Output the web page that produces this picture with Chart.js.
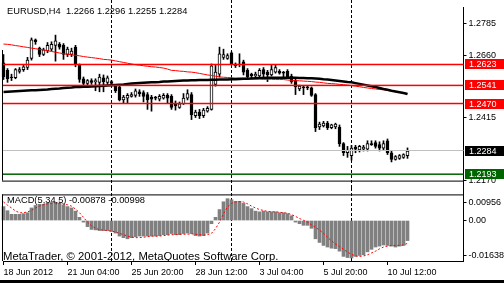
<!DOCTYPE html>
<html>
<head>
<meta charset="utf-8">
<script src="https://cdn.jsdelivr.net/npm/chart.js@4"></script>
<style>
  html, body { margin:0; padding:0; background:#fff; }
  #wrap { position:relative; width:504px; height:283px; overflow:hidden; background:#fff; }
  #priceChart { position:absolute; left:0; top:0; }
  #macdChart { position:absolute; left:0; top:188px; }
  #foot { position:absolute; left:0; top:280px; width:504px; height:3px; background:#000; }
</style>
</head>
<body>
<div id="wrap">
  <canvas id="priceChart" width="504" height="188"></canvas>
  <canvas id="macdChart" width="504" height="95"></canvas>
  <div id="foot"></div>
</div>
<script>
// EURUSD H4, one entry per bar (bar 0 = 18 Jun 2012 12:00)
const opens = [
  1.2629,1.2600,1.2574,1.2571,1.2596,1.2603,1.2611,1.2647,1.2720,1.2687,
  1.2662,1.2676,1.2683,1.2698,1.2702,1.2698,1.2662,1.2662,1.2691,1.2622,
  1.2567,1.2549,1.2560,1.2556,1.2553,1.2571,1.2553,1.2556,1.2538,1.2535,
  1.2484,1.2491,1.2498,1.2502,1.2516,1.2513,1.2505,1.2495,1.2495,1.2487,
  1.2491,1.2502,1.2498,1.2469,1.2455,1.2469,1.2491,1.2505,1.2422,1.2436,
  1.2422,1.2440,1.2447,1.2545,1.2585,1.2651,1.2647,1.2669,1.2625,1.2622,
  1.2633,1.2600,1.2585,1.2578,1.2578,1.2603,1.2593,1.2582,1.2593,1.2596,
  1.2593,1.2596,1.2578,1.2560,1.2527,1.2535,1.2535,1.2531,1.2505,1.2378,
  1.2382,1.2393,1.2375,1.2378,1.2378,1.2313,1.2277,1.2266,1.2299,1.2288,
  1.2291,1.2291,1.2313,1.2317,1.2309,1.2295,1.2324,1.2277,1.2251,1.2255,
  1.2259,1.2266
];
const highs = [
  1.2662,1.2607,1.2585,1.2607,1.2611,1.2622,1.2651,1.2727,1.2723,1.2691,
  1.2687,1.2709,1.2712,1.2738,1.2709,1.2705,1.2691,1.2687,1.2698,1.2625,
  1.2574,1.2564,1.2567,1.2567,1.2585,1.2582,1.2578,1.2560,1.2545,1.2542,
  1.2502,1.2509,1.2513,1.2527,1.2524,1.2520,1.2513,1.2502,1.2498,1.2505,
  1.2509,1.2509,1.2505,1.2480,1.2476,1.2509,1.2524,1.2513,1.2444,1.2447,
  1.2451,1.2458,1.2625,1.2622,1.2691,1.2683,1.2665,1.2672,1.2629,1.2665,
  1.2640,1.2607,1.2589,1.2593,1.2607,1.2611,1.2600,1.2622,1.2622,1.2603,
  1.2596,1.2603,1.2585,1.2567,1.2542,1.2538,1.2538,1.2535,1.2509,1.2397,
  1.2400,1.2400,1.2389,1.2393,1.2386,1.2317,1.2302,1.2306,1.2306,1.2306,
  1.2306,1.2324,1.2324,1.2324,1.2320,1.2324,1.2331,1.2284,1.2266,1.2270,
  1.2273,1.2296
];
const lows = [
  1.2564,1.2553,1.2560,1.2567,1.2589,1.2596,1.2603,1.2640,1.2702,1.2654,
  1.2658,1.2669,1.2676,1.2636,1.2683,1.2643,1.2654,1.2654,1.2614,1.2553,
  1.2542,1.2542,1.2545,1.2520,1.2516,1.2516,1.2545,1.2542,1.2513,1.2480,
  1.2473,1.2473,1.2495,1.2495,1.2498,1.2476,1.2447,1.2440,1.2484,1.2480,
  1.2487,1.2473,1.2447,1.2444,1.2451,1.2466,1.2484,1.2407,1.2415,1.2411,
  1.2415,1.2436,1.2444,1.2538,1.2574,1.2643,1.2643,1.2622,1.2611,1.2614,
  1.2582,1.2567,1.2571,1.2574,1.2574,1.2574,1.2556,1.2578,1.2589,1.2585,
  1.2574,1.2567,1.2549,1.2505,1.2520,1.2505,1.2524,1.2498,1.2360,1.2368,
  1.2378,1.2368,1.2371,1.2371,1.2302,1.2266,1.2259,1.2248,1.2277,1.2280,
  1.2284,1.2284,1.2306,1.2295,1.2284,1.2288,1.2270,1.2241,1.2248,1.2251,
  1.2255,1.2255
];
const closes = [
  1.2574,1.2567,1.2571,1.2603,1.2603,1.2614,1.2640,1.2720,1.2712,1.2662,
  1.2680,1.2698,1.2702,1.2716,1.2691,1.2662,1.2683,1.2676,1.2622,1.2564,
  1.2549,1.2560,1.2553,1.2560,1.2574,1.2556,1.2571,1.2549,1.2520,1.2484,
  1.2495,1.2502,1.2505,1.2520,1.2509,1.2498,1.2484,1.2487,1.2491,1.2498,
  1.2502,1.2491,1.2455,1.2462,1.2469,1.2491,1.2509,1.2426,1.2436,1.2422,
  1.2444,1.2451,1.2618,1.2593,1.2665,1.2662,1.2658,1.2625,1.2618,1.2625,
  1.2593,1.2574,1.2578,1.2585,1.2600,1.2585,1.2582,1.2603,1.2611,1.2589,
  1.2589,1.2574,1.2556,1.2535,1.2538,1.2531,1.2531,1.2502,1.2375,1.2389,
  1.2393,1.2375,1.2386,1.2389,1.2313,1.2277,1.2288,1.2295,1.2291,1.2302,
  1.2299,1.2313,1.2309,1.2302,1.2295,1.2313,1.2277,1.2251,1.2262,1.2266,
  1.2270,1.2284
];
// moving averages on the price window
const maRed = [
  1.2703,1.2702,1.2700,1.2697,1.2695,1.2692,1.2690,1.2687,1.2685,1.2682,
  1.2680,1.2677,1.2674,1.2671,1.2668,1.2665,1.2663,1.2661,1.2659,1.2657,
  1.2654,1.2652,1.2650,1.2648,1.2646,1.2643,1.2642,1.2640,1.2637,1.2634,
  1.2631,1.2628,1.2625,1.2622,1.2620,1.2618,1.2616,1.2614,1.2613,1.2611,
  1.2609,1.2605,1.2600,1.2599,1.2597,1.2596,1.2594,1.2593,1.2591,1.2588,
  1.2585,1.2582,1.2580,1.2577,1.2574,1.2573,1.2572,1.2571,1.2570,1.2570,
  1.2569,1.2568,1.2567,1.2566,1.2566,1.2565,1.2565,1.2565,1.2564,1.2564,
  1.2564,1.2562,1.2561,1.2560,1.2559,1.2558,1.2557,1.2556,1.2554,1.2553,
  1.2551,1.2549,1.2548,1.2547,1.2545,1.2544,1.2542,1.2540,1.2538,1.2536,
  1.2533,1.2531,1.2529,1.2527,1.2525,1.2524,1.2521,1.2519,1.2516,1.2514,
  1.2512,1.2509
];
const maBlack = [
  1.2515,1.2516,1.2517,1.2518,1.2519,1.2520,1.2521,1.2522,1.2522,1.2523,
  1.2524,1.2525,1.2527,1.2528,1.2529,1.2531,1.2532,1.2533,1.2535,1.2535,
  1.2536,1.2536,1.2537,1.2538,1.2539,1.2540,1.2541,1.2542,1.2543,1.2544,
  1.2545,1.2547,1.2548,1.2549,1.2550,1.2551,1.2552,1.2553,1.2553,1.2554,
  1.2556,1.2556,1.2557,1.2558,1.2559,1.2560,1.2560,1.2561,1.2561,1.2562,
  1.2562,1.2562,1.2563,1.2563,1.2564,1.2564,1.2564,1.2565,1.2565,1.2566,
  1.2567,1.2567,1.2568,1.2569,1.2570,1.2570,1.2571,1.2571,1.2571,1.2571,
  1.2571,1.2571,1.2571,1.2571,1.2570,1.2570,1.2569,1.2569,1.2568,1.2567,
  1.2565,1.2564,1.2562,1.2560,1.2558,1.2556,1.2554,1.2553,1.2550,1.2547,
  1.2544,1.2541,1.2538,1.2535,1.2531,1.2527,1.2524,1.2520,1.2517,1.2514,
  1.2511,1.2507
];
// MACD(5,34,5) window
const macdMain = [
  0.0061,0.0043,0.0027,0.0027,0.0027,0.0030,0.0034,0.0055,0.0066,0.0071,
  0.0071,0.0075,0.0079,0.0079,0.0075,0.0068,0.0061,0.0055,0.0041,0.0014,
  -0.0007,-0.0027,-0.0039,-0.0041,-0.0044,-0.0044,-0.0044,-0.0048,-0.0055,-0.0068,
  -0.0075,-0.0080,-0.0075,-0.0071,-0.0068,-0.0068,-0.0068,-0.0068,-0.0068,-0.0066,
  -0.0062,-0.0062,-0.0057,-0.0062,-0.0062,-0.0057,-0.0055,-0.0057,-0.0066,-0.0068,
  -0.0066,-0.0055,-0.0014,0.0014,0.0048,0.0082,0.00956,0.0091,0.0084,0.0084,
  0.0075,0.0061,0.0052,0.0041,0.0038,0.0041,0.0038,0.0038,0.0038,0.0034,
  0.0034,0.0030,0.0021,-0.0007,-0.0014,-0.0021,-0.0021,-0.0034,-0.0080,-0.0096,
  -0.0109,-0.0116,-0.0121,-0.0123,-0.0134,-0.0157,-0.0162,-0.01638,-0.0157,-0.0153,
  -0.0150,-0.0137,-0.0126,-0.0116,-0.0112,-0.0107,-0.0109,-0.0112,-0.0116,-0.0112,
  -0.0109,-0.00878
];
const macdSignal = [
  0.0081,0.0067,0.0055,0.0042,0.0034,0.0034,0.0038,0.0044,0.0055,0.0063,
  0.0069,0.0073,0.0075,0.0077,0.0075,0.0073,0.0069,0.0063,0.0050,0.0034,
  0.0014,-0.0007,-0.0023,-0.0034,-0.0040,-0.0042,-0.0044,-0.0046,-0.0050,-0.0056,
  -0.0062,-0.0068,-0.0073,-0.0075,-0.0075,-0.0073,-0.0071,-0.0068,-0.0068,-0.0068,
  -0.0066,-0.0064,-0.0062,-0.0062,-0.0060,-0.0060,-0.0060,-0.0058,-0.0060,-0.0062,
  -0.0064,-0.0062,-0.0056,-0.0036,-0.0007,0.0030,0.0059,0.0075,0.0081,0.0083,
  0.0081,0.0073,0.0063,0.0055,0.0048,0.0044,0.0040,0.0038,0.0038,0.0036,
  0.0034,0.0032,0.0026,0.0018,0.0009,0.0001,-0.0007,-0.0019,-0.0030,-0.0042,
  -0.0056,-0.0073,-0.0089,-0.0103,-0.0114,-0.0126,-0.0138,-0.0148,-0.0155,-0.0157,
  -0.0155,-0.0150,-0.0142,-0.0134,-0.0124,-0.0116,-0.0112,-0.0109,-0.0109,-0.0109,
  -0.0107,-0.00998
];

const timeLabels = ['18 Jun 2012','21 Jun 04:00','25 Jun 20:00','28 Jun 12:00','3 Jul 04:00','5 Jul 20:00','10 Jul 12:00'];
const timeLabelBars = [0,16,32,48,64,80,96];
const separatorBars = [27,57,87];
const priceTicks = [1.2785,1.2660,1.2415,1.2170];
const redLevels = [1.2623,1.2541,1.2470];
const bidPrice = 1.2284;
const greenLevel = 1.2193;
const macdTickPos = [0.0080,0,-0.0155];
const macdTickText = ['0.00956','0.00','-0.01638'];
const titleText = 'EURUSD,H4  1.2266 1.2296 1.2255 1.2284';
const macdText = 'MACD(5,34,5) -0.00878 -0.00998';
const copyText = 'MetaTrader, \u00a9 2001-2012, MetaQuotes Software Corp.';

const TOTAL_BARS = 116;   // visible slots incl. empty space on the right
const FONT = '"Liberation Sans", Arial, sans-serif';
const slots = Array.from({length: TOTAL_BARS}, (_, i) => i);

function xScale(show){
  return {
    type:'category', offset:false, display:show,
    grid:{ offset:false, drawOnChartArea:false, drawTicks:true, tickLength:4, color:'#000' },
    border:{ display:true, color:'#000' },
    afterBuildTicks: s => { s.ticks = timeLabelBars.map(v => ({value:v})); },
    afterFit: s => { s.height = show ? 22 : 0; },
    ticks:{ autoSkip:false, maxRotation:0, align:'start', padding:2, color:'#000',
      font:{ family:FONT, size:9 },
      callback: v => timeLabels[timeLabelBars.indexOf(v)] }
  };
}

function drawSeparators(chart, top, bottom){
  const {ctx, scales:{x}} = chart;
  ctx.save();
  ctx.strokeStyle = '#000'; ctx.lineWidth = 1; ctx.setLineDash([3,2]);
  separatorBars.forEach(b => {
    const px = x.getPixelForValue(b);
    ctx.beginPath(); ctx.moveTo(px, top); ctx.lineTo(px, bottom); ctx.stroke();
  });
  ctx.restore();
}

function hLine(ctx, a, y, color, w){
  ctx.fillStyle = color;
  ctx.fillRect(a.left - 1, y - w / 2, a.right - a.left + 1, w);
}

function priceTag(ctx, y, bg, text){
  const top = Math.round(y) - 5;
  ctx.fillStyle = bg; ctx.fillRect(465, top, 39, 10);
  ctx.fillStyle = '#fff'; ctx.font = '9px ' + FONT; ctx.textBaseline = 'middle';
  ctx.fillText(text, 469, top + 5.5);
}

const priceDecor = {
  id:'priceDecor',
  beforeDatasetsDraw(chart){ drawSeparators(chart, 0, chart.height); },
  afterDatasetsDraw(chart){
    const {ctx, chartArea:a, scales:{y}} = chart;
    ctx.save();
    redLevels.forEach(v => hLine(ctx, a, y.getPixelForValue(v), '#ff0000', 1.5));
    hLine(ctx, a, Math.round(y.getPixelForValue(bidPrice)) - 0.5, '#c0c0c0', 1);
    hLine(ctx, a, y.getPixelForValue(greenLevel), '#006400', 1.5);
    ctx.restore();
  },
  afterDraw(chart){
    const {ctx, chartArea:a, scales:{y}} = chart;
    ctx.save();
    ctx.fillStyle = '#000';
    ctx.fillRect(2, a.bottom, 462, 1);
    ctx.fillRect(2, 50, 1, a.bottom - 50);
    ctx.fillRect(463, a.bottom, 1, chart.height - a.bottom);
    redLevels.forEach(v => priceTag(ctx, y.getPixelForValue(v), '#ff0000', v.toFixed(4)));
    priceTag(ctx, y.getPixelForValue(bidPrice), '#000', bidPrice.toFixed(4));
    priceTag(ctx, y.getPixelForValue(greenLevel), '#006400', greenLevel.toFixed(4));
    ctx.fillStyle = '#000'; ctx.font = '9.3px ' + FONT; ctx.textBaseline = 'alphabetic';
    ctx.fillText(titleText, 7, 14);
    ctx.restore();
  }
};

const macdDecor = {
  id:'macdDecor',
  beforeDatasetsDraw(chart){ drawSeparators(chart, 0, chart.chartArea.bottom); },
  afterDraw(chart){
    const {ctx, chartArea:a} = chart;
    ctx.save();
    ctx.fillStyle = '#000';
    ctx.fillRect(2, a.top - 1, 462, 1);
    ctx.fillRect(2, a.top - 1, 1, a.bottom - a.top + 1);
    ctx.fillRect(463, 0, 1, a.top);
    ctx.font = '9.3px ' + FONT; ctx.textBaseline = 'alphabetic';
    ctx.fillText(macdText, 7, 15);
    ctx.font = '11.3px ' + FONT;
    ctx.fillText(copyText, 3, 72);
    ctx.restore();
  }
};

const baseOpts = {
  responsive:false, animation:false, devicePixelRatio:1, events:[],
  plugins:{ legend:{display:false}, tooltip:{enabled:false} }
};

new Chart(document.getElementById('priceChart'), {
  type:'bar',
  data:{
    labels: slots,
    datasets:[
      { label:'wick', data: highs.map((h,i) => [lows[i], h]), backgroundColor:'#000',
        barThickness:1, grouped:false, order:5, clip:false },
      { label:'body', data: opens.map((o,i) => [o, closes[i]]),
        backgroundColor: c => closes[c.dataIndex] >= opens[c.dataIndex] ? '#fff' : '#000',
        borderColor:'#000', borderWidth:1, borderSkipped:false,
        barThickness:3, grouped:false, order:4, clip:false },
      { type:'line', label:'ma red', data: maRed, borderColor:'#ff0000', borderWidth:1,
        pointRadius:0, tension:0, order:3 },
      { type:'line', label:'ma black', data: maBlack, borderColor:'#000', borderWidth:2.5,
        pointRadius:0, tension:0, order:2 }
    ]
  },
  options:{
    ...baseOpts,
    layout:{ autoPadding:false, padding:{ left:3.5, right:0, top:0, bottom:1 } },
    scales:{
      x: xScale(false),
      y:{
        position:'right', min:1.21679, max:1.28467,
        afterFit: s => { s.width = 40.5; },
        afterBuildTicks: s => { s.ticks = priceTicks.map(v => ({value:v})); },
        grid:{ drawOnChartArea:false, drawTicks:true, tickLength:3, color:'#000' },
        border:{ display:true, color:'#000' },
        ticks:{ color:'#000', padding:2, font:{ family:FONT, size:9 }, callback: v => v.toFixed(4) }
      }
    }
  },
  plugins:[priceDecor]
});

new Chart(document.getElementById('macdChart'), {
  type:'bar',
  data:{
    labels: slots,
    datasets:[
      { label:'MACD', data: macdMain, backgroundColor:'#808080', barThickness:3,
        grouped:false, order:2, clip:false },
      { type:'line', label:'Signal', data: macdSignal, borderColor:'#ff0000', borderWidth:1,
        borderDash:[2,2], pointRadius:0, tension:0, order:1 }
    ]
  },
  options:{
    ...baseOpts,
    layout:{ autoPadding:false, padding:{ left:3.5, right:0, top:3, bottom:0 } },
    scales:{
      x: xScale(true),
      y:{
        position:'right', min:-0.01771, max:0.01099,
        afterFit: s => { s.width = 40.5; },
        afterBuildTicks: s => { s.ticks = macdTickPos.map(v => ({value:v})); },
        grid:{ drawOnChartArea:false, drawTicks:true, tickLength:3, color:'#000' },
        border:{ display:true, color:'#000' },
        ticks:{ color:'#000', padding:2, font:{ family:FONT, size:9 },
          callback: v => macdTickText[macdTickPos.indexOf(v)] }
      }
    }
  },
  plugins:[macdDecor]
});
</script>
</body>
</html>
